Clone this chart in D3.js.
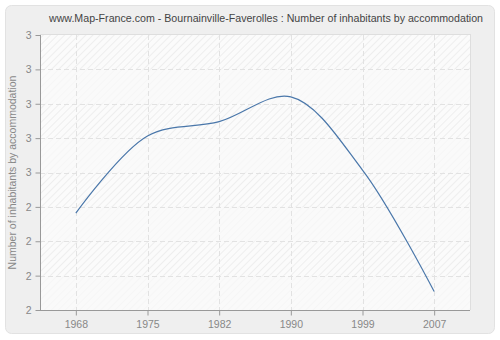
<!DOCTYPE html>
<html>
<head>
<meta charset="utf-8">
<script src="https://cdn.jsdelivr.net/npm/d3@7"></script>
<style>
	body { margin: 0; background: #fff; }
	svg text { font-family: "Liberation Sans", Arial, sans-serif; }
</style>
</head>
<body>
<div id="chart"></div>
<script>
var title = "www.Map-France.com - Bournainville-Faverolles : Number of inhabitants by accommodation";
var yLabel = "Number of inhabitants by accommodation";
var years = ["1968", "1975", "1982", "1990", "1999", "2007"];
var values = [2.352, 2.633, 2.685, 2.775, 2.509, 2.067];
var yTicks = [2, 2.125, 2.25, 2.375, 2.5, 2.625, 2.75, 2.875, 3];

var width = 500,
	height = 340;
var pLeft = 40, pRight = 470, pTop = 35, pBottom = 310;

var svg = d3.select("#chart").append("svg")
	.attr("width", width)
	.attr("height", height);

var defs = svg.append("defs");
var pat = defs.append("pattern")
	.attr("id", "hatch")
	.attr("patternUnits", "userSpaceOnUse")
	.attr("width", 5)
	.attr("height", 5)
	.attr("patternTransform", "rotate(45)");
pat.append("rect").attr("width", 5).attr("height", 5).attr("fill", "#fbfbfb");
pat.append("line")
	.attr("x1", 0).attr("y1", 0).attr("x2", 0).attr("y2", 5)
	.attr("stroke", "#eaeaea")
	.attr("stroke-width", 1.5);

// outer panel
svg.append("rect")
	.attr("x", 5.5).attr("y", 5.5)
	.attr("width", 489).attr("height", 328)
	.attr("rx", 6)
	.attr("fill", "#efefef")
	.attr("stroke", "#e2e2e2");

var x = d3.scalePoint()
	.domain(years)
	.range([pLeft, pRight])
	.padding(0.5);

var y = d3.scaleLinear()
	.domain([2, 3])
	.range([pBottom, pTop]);

// plot background
svg.append("rect")
	.attr("x", pLeft).attr("y", pTop - 1)
	.attr("width", pRight - pLeft + 1).attr("height", pBottom - pTop + 1)
	.attr("fill", "#dedede");
svg.append("rect")
	.attr("x", pLeft).attr("y", pTop)
	.attr("width", pRight - pLeft).attr("height", pBottom - pTop)
	.attr("fill", "url(#hatch)");

// plain bands in between hatched ones
var bands = d3.range(1, yTicks.length - 1, 2);
svg.append("g").selectAll("rect")
	.data(bands)
	.enter().append("rect")
	.attr("x", pLeft)
	.attr("y", function(i) { return y(yTicks[yTicks.length - 1 - i]); })
	.attr("width", pRight - pLeft)
	.attr("height", function(i) { return y(yTicks[yTicks.length - 2 - i]) - y(yTicks[yTicks.length - 1 - i]); })
	.attr("fill", "#f9f9f9")
	.attr("opacity", 0.7);

// grid
svg.append("g").selectAll("line")
	.data(yTicks.slice(1, -1))
	.enter().append("line")
	.attr("x1", pLeft).attr("x2", pRight)
	.attr("y1", function(d) { return Math.round(y(d)) + 0.5; })
	.attr("y2", function(d) { return Math.round(y(d)) + 0.5; })
	.attr("stroke", "#e2e2e2")
	.attr("stroke-dasharray", "5,3");

svg.append("g").selectAll("line")
	.data(years)
	.enter().append("line")
	.attr("x1", function(d) { return Math.round(x(d)) + 0.5; })
	.attr("x2", function(d) { return Math.round(x(d)) + 0.5; })
	.attr("y1", pTop).attr("y2", pBottom)
	.attr("stroke", "#e2e2e2")
	.attr("stroke-dasharray", "5,3");

// axes
var yAxis = d3.axisLeft(y)
	.tickValues(yTicks)
	.tickSize(5)
	.tickPadding(4)
	.tickFormat(function(d) { return Math.round(d); });
var gy = svg.append("g")
	.attr("transform", "translate(" + (pLeft + 0.5) + ",0)")
	.call(yAxis);

var xAxis = d3.axisBottom(x)
	.tickSize(5)
	.tickPadding(5);
var gx = svg.append("g")
	.attr("transform", "translate(0," + (pBottom + 0.5) + ")")
	.call(xAxis);

[gx, gy].forEach(function(g) {
	g.select(".domain").remove();
	g.selectAll(".tick line").attr("stroke", "#999");
	g.selectAll(".tick text")
		.attr("fill", "#888")
		.style("font-size", "10.5px");
});
svg.append("line")
	.attr("x1", pLeft + 0.5).attr("x2", pLeft + 0.5)
	.attr("y1", pTop).attr("y2", pBottom + 1)
	.attr("stroke", "#999");
svg.append("line")
	.attr("x1", pLeft).attr("x2", pRight)
	.attr("y1", pBottom + 0.5).attr("y2", pBottom + 0.5)
	.attr("stroke", "#999");

// line
var line = d3.line()
	.x(function(d, i) { return x(years[i]); })
	.y(function(d) { return y(d); })
	.curve(d3.curveCatmullRom.alpha(0.5));

svg.append("path")
	.datum(values)
	.attr("d", line)
	.attr("fill", "none")
	.attr("stroke", "#4a77aa")
	.attr("stroke-width", 1.2);

// title
svg.append("text")
	.attr("x", 266)
	.attr("y", 22)
	.attr("text-anchor", "middle")
	.attr("fill", "#444")
	.style("font-size", "10.65px")
	.text(title);

svg.append("text")
	.attr("transform", "translate(16," + ((pTop + pBottom) / 2) + ") rotate(-90)")
	.attr("text-anchor", "middle")
	.attr("fill", "#888")
	.style("font-size", "10.5px")
	.text(yLabel);
</script>
</body>
</html>
